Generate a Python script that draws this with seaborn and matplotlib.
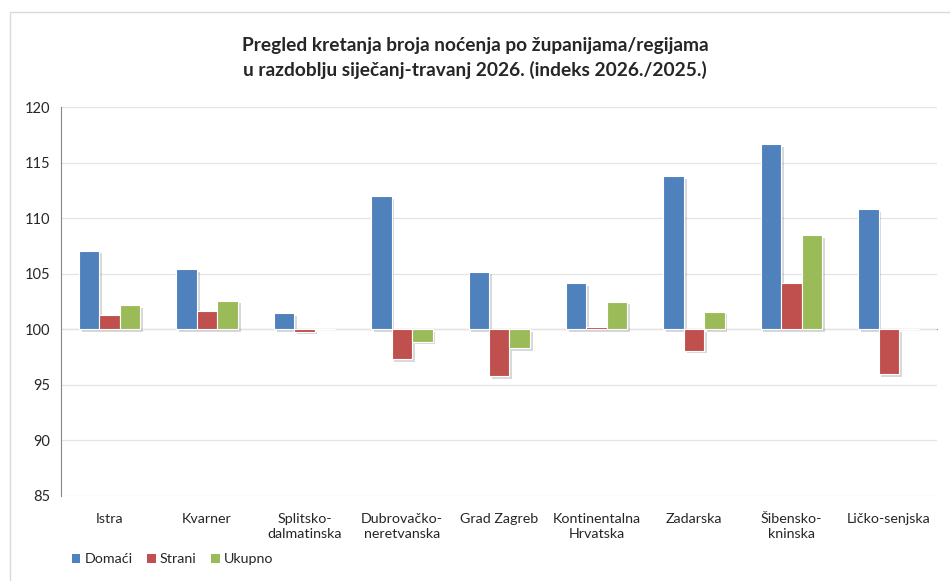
import numpy as np
import pandas as pd
import matplotlib.pyplot as plt
import matplotlib.patches as mpatches
import matplotlib.patheffects as pe
from matplotlib.ticker import FuncFormatter
import seaborn as sns

# podaci (indeks 2026./2025.)
regije = ['Istra', 'Kvarner', 'Splitsko-\ndalmatinska', 'Dubrovačko-\nneretvanska',
          'Grad Zagreb', 'Kontinentalna\nHrvatska', 'Zadarska', 'Šibensko-\nkninska',
          'Ličko-senjska']
domaci = [107.1, 105.4, 101.5, 112.0, 105.2, 104.2, 113.8, 116.7, 110.8]
strani = [101.3, 101.7, 99.8, 97.3, 95.8, 100.2, 98.1, 104.2, 96.0]
ukupno = [102.2, 102.6, 100.0, 98.9, 98.3, 102.5, 101.6, 108.5, 100.0]
serije = ['Domaći', 'Strani', 'Ukupno']
boje = ['#4F81BD', '#C0504D', '#9BBB59']

df = pd.DataFrame({'Regija': regije * 3,
                   'Serija': np.repeat(serije, len(regije)),
                   'Indeks': domaci + strani + ukupno})
# stupci krecu od 100
df['Razlika'] = df['Indeks'] - 100

sns.set_style('white')
plt.rcParams['font.family'] = ['Lato', 'DejaVu Sans']

fig = plt.figure(figsize=(9.5, 5.81), dpi=100)
ax = fig.add_axes([0.0642, 0.1463, 0.9226, 0.669])

sns.barplot(data=df, x='Regija', y='Razlika', hue='Serija', palette=boje, saturation=1,
            width=0.63, edgecolor='white', linewidth=0.8, ax=ax, legend=True)
for p in ax.patches:
    p.set_path_effects([pe.SimplePatchShadow(offset=(2, -2), shadow_rgbFace='#7F7F7F', alpha=0.3),
                        pe.Normal()])

ymin, ymax = -15, 20
ax.set_ylim(ymin, ymax)
ax.set_xlim(-0.5, len(regije) - 0.5)
ax.set_yticks(np.arange(ymin, ymax + 1, 5))
ax.yaxis.set_major_formatter(FuncFormatter(lambda v, pos: f'{v + 100:.0f}'))
ax.yaxis.grid(True, color='#E4E4E4', linewidth=0.9)
ax.set_axisbelow(True)
ax.set_xlabel('')
ax.set_ylabel('')

# os x prolazi kroz 100
for s in ['top', 'right']:
    ax.spines[s].set_visible(False)
ax.spines['left'].set_color('#868686')
ax.spines['bottom'].set_color('#868686')
ax.spines['bottom'].set_position(('data', 0))
ax.spines['bottom'].set_zorder(0.5)
ax.set_xticks(np.arange(-0.5, len(regije), 1.0))
ax.set_xticklabels([])
ax.tick_params(axis='x', length=4, color='#868686', direction='out')
ax.tick_params(axis='y', length=4, color='#868686', direction='out', labelsize=10.5, pad=4)

# nazivi regija na dnu
sec = ax.secondary_xaxis('bottom')
sec.set_xticks(range(len(regije)))
sec.set_xticklabels(regije, fontsize=10.3, linespacing=1.3, va='top')
sec.tick_params(length=0, pad=12)
sec.spines['bottom'].set_visible(False)

leg = ax.legend(loc='lower left', bbox_to_anchor=(0.062, 0.005), bbox_transform=fig.transFigure,
                ncol=3, frameon=False, fontsize=10.3, handlelength=0.6, handleheight=0.6,
                handletextpad=0.3, columnspacing=1.0)
for h in leg.legend_handles:
    h.set_path_effects([])
    h.set_edgecolor('none')

fig.text(0.5, 0.9, 'Pregled kretanja broja noćenja po županijama/regijama\n'
         'u razdoblju siječanj-travanj 2026. (indeks 2026./2025.)',
         ha='center', va='center', fontsize=13.8, fontweight='bold', linespacing=1.5)

fig.patches.append(mpatches.Rectangle((10 / 950, -0.1), 1.2, 1 - 12 / 581 + 0.1, transform=fig.transFigure,
                                      fill=False, edgecolor='#D9D9D9', linewidth=1, zorder=-1))

fig.savefig('out.png', dpi=100)
